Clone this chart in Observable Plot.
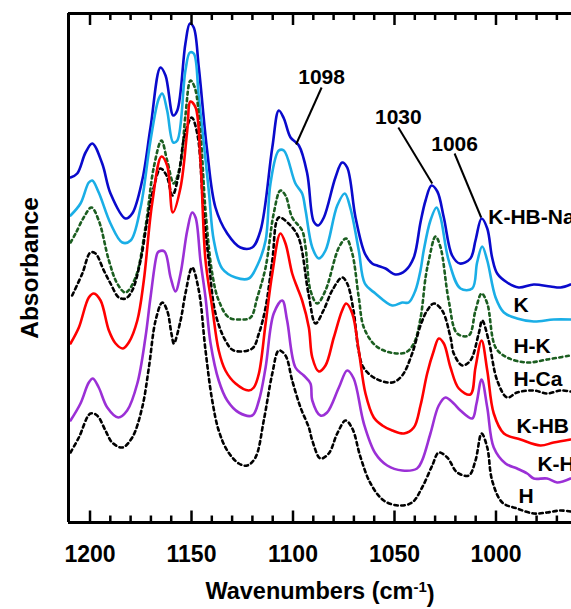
<!DOCTYPE html>
<html><head><meta charset="utf-8">
<script src="https://cdn.jsdelivr.net/npm/d3@7"></script>
<script src="https://cdn.jsdelivr.net/npm/@observablehq/plot@0.6"></script>
<style>body{margin:0;background:#fff} svg{display:block}</style>
</head><body><div id="chart"></div>
<script>
// ---- data: [wavenumber (cm-1), absorbance (a.u., offset stacked)] ----
const kHbNa = [[1209.6,3.45],[1206.3,3.49],[1202.2,3.70],[1198.9,3.79],[1194.0,3.59],[1189.9,3.29],[1182.5,3.04],[1179.2,3.09],[1174.3,3.42],[1170.2,3.95],[1165.3,4.55],[1162.8,4.47],[1159.0,4.07],[1157.0,4.12],[1153.0,4.79],[1150.8,4.99],[1148.9,4.95],[1146.4,4.55],[1142.3,3.72],[1138.2,3.15],[1132.4,2.89],[1125.9,2.75],[1120.1,2.75],[1116.0,2.92],[1110.2,3.75],[1107.0,4.12],[1104.5,4.04],[1101.2,3.85],[1097.1,3.77],[1093.0,3.49],[1089.8,3.01],[1087.6,2.97],[1084.8,3.05],[1079.1,3.45],[1075.8,3.60],[1073.3,3.55],[1069.2,3.05],[1064.6,2.69],[1061.0,2.59],[1058.5,2.57],[1054.4,2.54],[1049.5,2.48],[1044.6,2.52],[1040.5,2.65],[1037.2,3.00],[1034.7,3.22],[1031.8,3.37],[1028.9,3.31],[1025.7,3.05],[1021.6,2.67],[1017.8,2.59],[1012.6,2.64],[1010.1,2.82],[1007.1,3.04],[1004.3,2.94],[1001.9,2.65],[999.4,2.49],[994.5,2.40],[988.8,2.35],[981.4,2.38],[973.2,2.36],[968.2,2.35],[963.3,2.38]];
const kOnly = [[1209.6,3.07],[1204.7,3.19],[1200.6,3.40],[1198.9,3.42],[1195.7,3.30],[1189.9,2.99],[1184.1,2.80],[1180.0,2.82],[1175.1,3.15],[1170.2,3.82],[1166.1,4.24],[1164.4,4.29],[1162.0,4.12],[1159.0,3.80],[1157.0,3.82],[1153.0,4.52],[1150.8,4.70],[1148.9,4.69],[1146.4,4.25],[1141.5,3.32],[1139.0,2.82],[1134.9,2.54],[1128.3,2.45],[1121.8,2.44],[1117.6,2.57],[1113.5,2.82],[1111.1,3.39],[1107.0,3.72],[1104.5,3.72],[1098.8,3.39],[1095.5,3.29],[1093.8,3.12],[1090.5,2.75],[1087.3,2.64],[1084.0,2.72],[1078.2,3.17],[1074.5,3.29],[1071.7,3.14],[1067.6,2.72],[1064.6,2.39],[1059.4,2.29],[1051.1,2.17],[1046.2,2.20],[1043.0,2.20],[1039.7,2.32],[1037.2,2.52],[1035.6,2.72],[1032.3,3.02],[1029.3,3.15],[1027.3,3.05],[1023.3,2.62],[1017.5,2.34],[1011.7,2.34],[1009.3,2.60],[1006.8,2.76],[1004.3,2.62],[1000.2,2.25],[996.1,2.10],[989.6,2.04],[981.4,2.01],[971.6,2.03],[963.3,2.03]];
const hK = [[1209.6,2.80],[1207.1,2.89],[1203.1,3.05],[1199.3,3.15],[1195.7,3.02],[1190.7,2.62],[1186.6,2.39],[1182.5,2.30],[1177.6,2.45],[1172.7,2.95],[1168.6,3.55],[1164.8,3.82],[1162.0,3.62],[1158.7,3.39],[1155.4,3.59],[1153.0,4.07],[1150.5,4.42],[1148.4,4.35],[1145.6,3.89],[1143.1,3.12],[1139.8,2.49],[1136.6,2.22],[1131.6,2.05],[1125.9,2.03],[1120.9,2.05],[1117.6,2.25],[1113.5,2.55],[1109.5,3.09],[1106.2,3.32],[1103.7,3.27],[1100.4,3.05],[1095.5,2.92],[1093.8,2.75],[1091.4,2.32],[1088.1,2.19],[1084.0,2.32],[1077.4,2.75],[1073.8,2.84],[1070.8,2.69],[1067.6,2.25],[1065.1,1.95],[1059.4,1.77],[1052.0,1.70],[1044.6,1.70],[1040.5,1.79],[1037.2,2.04],[1034.7,2.45],[1033.1,2.62],[1029.8,2.86],[1027.3,2.75],[1023.3,2.22],[1019.1,1.89],[1013.4,1.87],[1010.1,2.12],[1007.1,2.29],[1004.3,2.19],[1000.2,1.75],[994.5,1.65],[984.6,1.60],[974.8,1.63],[963.3,1.67]];
const hCa = [[1208.8,2.27],[1203.8,2.49],[1199.8,2.70],[1197.3,2.69],[1193.2,2.52],[1189.9,2.39],[1185.8,2.25],[1182.5,2.24],[1179.2,2.32],[1175.1,2.62],[1171.8,3.02],[1168.6,3.35],[1165.3,3.54],[1162.3,3.47],[1159.4,3.27],[1156.4,3.47],[1153.4,3.87],[1149.9,4.05],[1147.0,3.87],[1144.1,3.12],[1141.5,2.62],[1138.2,2.09],[1133.3,1.82],[1129.2,1.72],[1120.1,1.74],[1116.8,1.89],[1113.5,2.15],[1110.2,2.62],[1107.0,3.05],[1102.2,2.99],[1097.3,2.85],[1092.4,2.29],[1088.9,1.99],[1085.0,2.12],[1080.7,2.32],[1075.8,2.45],[1073.3,2.39],[1070.2,2.12],[1067.7,1.72],[1065.3,1.55],[1059.4,1.44],[1051.1,1.40],[1046.2,1.47],[1041.3,1.69],[1037.2,1.97],[1033.9,2.12],[1030.6,2.19],[1026.5,2.12],[1022.4,1.85],[1020.8,1.69],[1016.6,1.57],[1012.6,1.62],[1008.5,1.89],[1006.8,2.02],[1003.6,1.82],[999.4,1.42],[994.5,1.25],[989.6,1.30],[981.4,1.32],[974.8,1.29],[968.2,1.32],[963.3,1.31]];
const kHb = [[1209.6,1.79],[1205.5,1.95],[1200.6,2.25],[1198.1,2.29],[1194.8,2.22],[1190.7,1.92],[1187.4,1.79],[1183.8,1.74],[1180.9,1.80],[1176.7,2.02],[1173.5,2.42],[1169.4,3.19],[1164.8,3.66],[1162.0,3.57],[1159.2,3.10],[1155.4,3.35],[1152.1,3.92],[1150.5,4.21],[1148.0,4.15],[1145.6,3.62],[1143.1,2.62],[1139.8,2.15],[1136.6,1.72],[1133.3,1.52],[1128.3,1.39],[1121.8,1.32],[1119.3,1.35],[1116.8,1.49],[1113.5,1.99],[1110.2,2.49],[1106.2,2.89],[1103.7,2.79],[1100.4,2.49],[1097.9,2.35],[1095.5,2.22],[1092.2,1.95],[1090.5,1.65],[1087.3,1.51],[1084.0,1.57],[1079.9,1.85],[1075.8,2.12],[1073.8,2.19],[1070.8,2.09],[1067.6,1.72],[1064.3,1.29],[1060.2,1.05],[1056.0,0.97],[1051.1,0.92],[1045.4,0.89],[1040.5,0.95],[1037.2,1.17],[1033.9,1.49],[1030.6,1.72],[1028.2,1.84],[1025.7,1.79],[1022.4,1.55],[1018.3,1.34],[1012.6,1.28],[1010.1,1.55],[1007.1,1.82],[1004.3,1.52],[1001.1,1.09],[996.1,0.89],[987.9,0.83],[978.1,0.77],[971.6,0.80],[963.3,0.83]];
const kH = [[1209.6,1.02],[1204.7,1.19],[1200.6,1.40],[1198.6,1.44],[1195.7,1.35],[1191.5,1.15],[1186.1,1.05],[1181.7,1.12],[1176.7,1.39],[1172.7,1.85],[1170.2,2.25],[1166.9,2.69],[1166.1,2.71],[1163.3,2.71],[1160.3,2.45],[1157.9,2.31],[1155.4,2.49],[1152.1,2.92],[1149.7,3.10],[1148.0,3.05],[1145.6,2.62],[1143.1,2.25],[1140.6,1.79],[1136.6,1.42],[1132.4,1.22],[1126.7,1.10],[1120.1,1.07],[1116.8,1.22],[1113.5,1.55],[1109.5,2.09],[1105.3,2.22],[1102.9,2.02],[1098.8,1.55],[1094.7,1.47],[1091.4,1.39],[1090.5,1.22],[1086.5,1.07],[1083.2,1.10],[1077.4,1.35],[1073.3,1.52],[1070.1,1.44],[1065.1,0.99],[1059.4,0.69],[1053.6,0.57],[1046.2,0.52],[1038.9,0.54],[1036.4,0.62],[1032.3,0.89],[1028.2,1.17],[1024.9,1.25],[1020.8,1.19],[1017.5,1.12],[1011.7,1.04],[1009.6,1.19],[1007.1,1.43],[1004.3,1.15],[1001.1,0.75],[995.3,0.59],[989.6,0.54],[984.6,0.49],[981.4,0.44],[974.8,0.44],[969.9,0.40],[963.3,0.44]];
const hOnly = [[1209.6,0.70],[1205.5,0.85],[1199.8,1.09],[1196.5,1.07],[1192.4,0.92],[1189.1,0.80],[1184.1,0.75],[1179.2,0.85],[1174.3,1.15],[1171.0,1.55],[1167.7,2.02],[1164.4,2.20],[1162.0,2.12],[1159.9,1.89],[1158.7,1.79],[1155.4,2.02],[1153.0,2.29],[1149.7,2.55],[1146.4,2.32],[1143.1,1.72],[1139.8,1.22],[1136.6,0.92],[1132.4,0.72],[1126.7,0.59],[1122.6,0.57],[1118.5,0.65],[1114.4,1.02],[1110.2,1.49],[1107.0,1.72],[1103.7,1.67],[1100.4,1.42],[1096.3,1.15],[1092.2,0.95],[1090.5,0.82],[1086.5,0.64],[1082.4,0.69],[1078.2,0.89],[1074.1,1.02],[1070.8,0.94],[1066.7,0.65],[1061.8,0.39],[1055.3,0.22],[1047.9,0.17],[1041.3,0.20],[1036.4,0.35],[1031.4,0.57],[1028.2,0.70],[1024.0,0.65],[1019.1,0.50],[1013.4,0.47],[1010.1,0.62],[1007.1,0.89],[1004.3,0.75],[1001.9,0.42],[996.9,0.20],[989.6,0.14],[981.4,0.09],[974.8,0.10],[968.2,0.12],[963.3,0.11]];

const seriesNames = ["K-HB-Na","K","H-K","H-Ca","K-HB","K-H","H"];
const seriesValues = [kHbNa, kOnly, hK, hCa, kHb, kH, hOnly];
const seriesColors = ["#0a0acc","#1aaee6","#1b5e20","#000000","#ff0000","#9b30d6","#000000"];
const seriesDash = [null, null, "3,3.5", "3.5,3.5", null, null, "3.5,3.5"];
// label anchor (wavenumber, absorbance) for each series name
const seriesLabelW = [1003.8, 991.4, 991.4, 991.4, 989.9, 979.6, 988.9];
const seriesLabelA = [2.99, 2.11, 1.70, 1.37, 0.90, 0.52, 0.20];

const majorTicks = [1200, 1150, 1100, 1050, 1000];
const minorTicks = [1190,1180,1170,1160,1140,1130,1120,1110,1090,1080,1070,1060,1040,1030,1020,1010,990,980,970];
const xDomain = [1210.6, 962.8];
const yDomain = [0, 5.09];

// peak annotations: label, label position, peak point
const peakLabels = ["1098", "1030", "1006"];
const peakTextW = [1085.9, 1048.1, 1020.4];
const peakTextA = [4.39, 3.99, 3.72];
const peakLineTopA = [4.35, 3.95, 3.69];
const peakPointW = [1098.5, 1031.4, 1007.3];
const peakPointA = [3.78, 3.39, 3.05];

// ---- build tables ----
const rows = seriesNames.flatMap((name, i) => seriesValues[i].map(([w, a]) => ({name, w, a})));
const labels = seriesNames.map((name, i) => ({name, w: seriesLabelW[i], a: seriesLabelA[i]}));
const peaks = peakLabels.map((t, i) => ({t, tw: peakTextW[i], ta: peakTextA[i], la: peakLineTopA[i], pw: peakPointW[i], pa: peakPointA[i]}));

const font = "'Liberation Sans', Arial, sans-serif";
const lineMarks = seriesNames.map((name, i) => Plot.line(rows.filter(d => d.name === name), {
  x: "w", y: "a", stroke: seriesColors[i], strokeWidth: 2.6, curve: "catmull-rom",
  strokeDasharray: seriesDash[i] || undefined
}));

const yLo = yDomain[0], yHi = yDomain[1];
const chart = Plot.plot({
  width: 571, height: 609,
  marginLeft: 68, marginRight: 0, marginTop: 13, marginBottom: 87,
  style: {fontFamily: font, fontWeight: "bold", background: "#fff"},
  x: {domain: xDomain},
  y: {domain: yDomain, axis: null},
  marks: [
    ...lineMarks,
    // inward tick marks, bottom and top
    Plot.ruleX(majorTicks, {x: d => d, y1: yLo, y2: yLo + 0.115, strokeWidth: 2.5}),
    Plot.ruleX(minorTicks, {x: d => d, y1: yLo, y2: yLo + 0.065, strokeWidth: 2.5}),
    Plot.ruleX(majorTicks, {x: d => d, y1: yHi, y2: yHi - 0.12, strokeWidth: 2.5}),
    Plot.ruleX(minorTicks, {x: d => d, y1: yHi, y2: yHi - 0.07, strokeWidth: 2.5}),
    // frame (left, top, bottom)
    Plot.ruleY([yLo, yHi], {strokeWidth: 3}),
    Plot.ruleX([xDomain[0]], {strokeWidth: 3}),
    Plot.axisX({ticks: majorTicks, tickSize: 0, tickPadding: 23, fontSize: 23, fontWeight: "bold", label: null, tickFormat: d => String(d)}),
    // peak annotations
    Plot.link(peaks, {x1: "tw", y1: "la", x2: "pw", y2: "pa", stroke: "#000", strokeWidth: 2}),
    Plot.text(peaks, {x: "tw", y: "ta", text: "t", fontSize: 21, fontWeight: "bold", textAnchor: "middle", lineAnchor: "bottom", fill: "#000"}),
    // series labels
    Plot.text(labels, {x: "w", y: "a", text: "name", fontSize: 21, fontWeight: "bold", textAnchor: "start", lineAnchor: "bottom", fill: "#000"}),
    // axis titles
    Plot.text(["Wavenumbers (cm-1)"], {frameAnchor: "bottom", dy: 76, text: d => d, fontSize: 23.5, fontWeight: "bold", textAnchor: "middle", lineAnchor: "bottom", fill: "#000"}),
    Plot.text(["Absorbance"], {frameAnchor: "left", dx: -31, rotate: -90, text: d => d, fontSize: 24.5, fontWeight: "bold", textAnchor: "middle", lineAnchor: "bottom", fill: "#000"})
  ]
});
document.getElementById("chart").appendChild(chart);

// superscript for the unit
d3.select(chart).selectAll("text").filter(function() { return this.textContent === "Wavenumbers (cm-1)"; })
  .each(function() {
    const t = d3.select(this);
    t.text(null);
    t.append("tspan").text("Wavenumbers (cm");
    t.append("tspan").attr("dy", "-0.45em").attr("font-size", "15").text("-1");
    t.append("tspan").attr("dy", "0.45em").text(")");
  });
</script></body></html>
